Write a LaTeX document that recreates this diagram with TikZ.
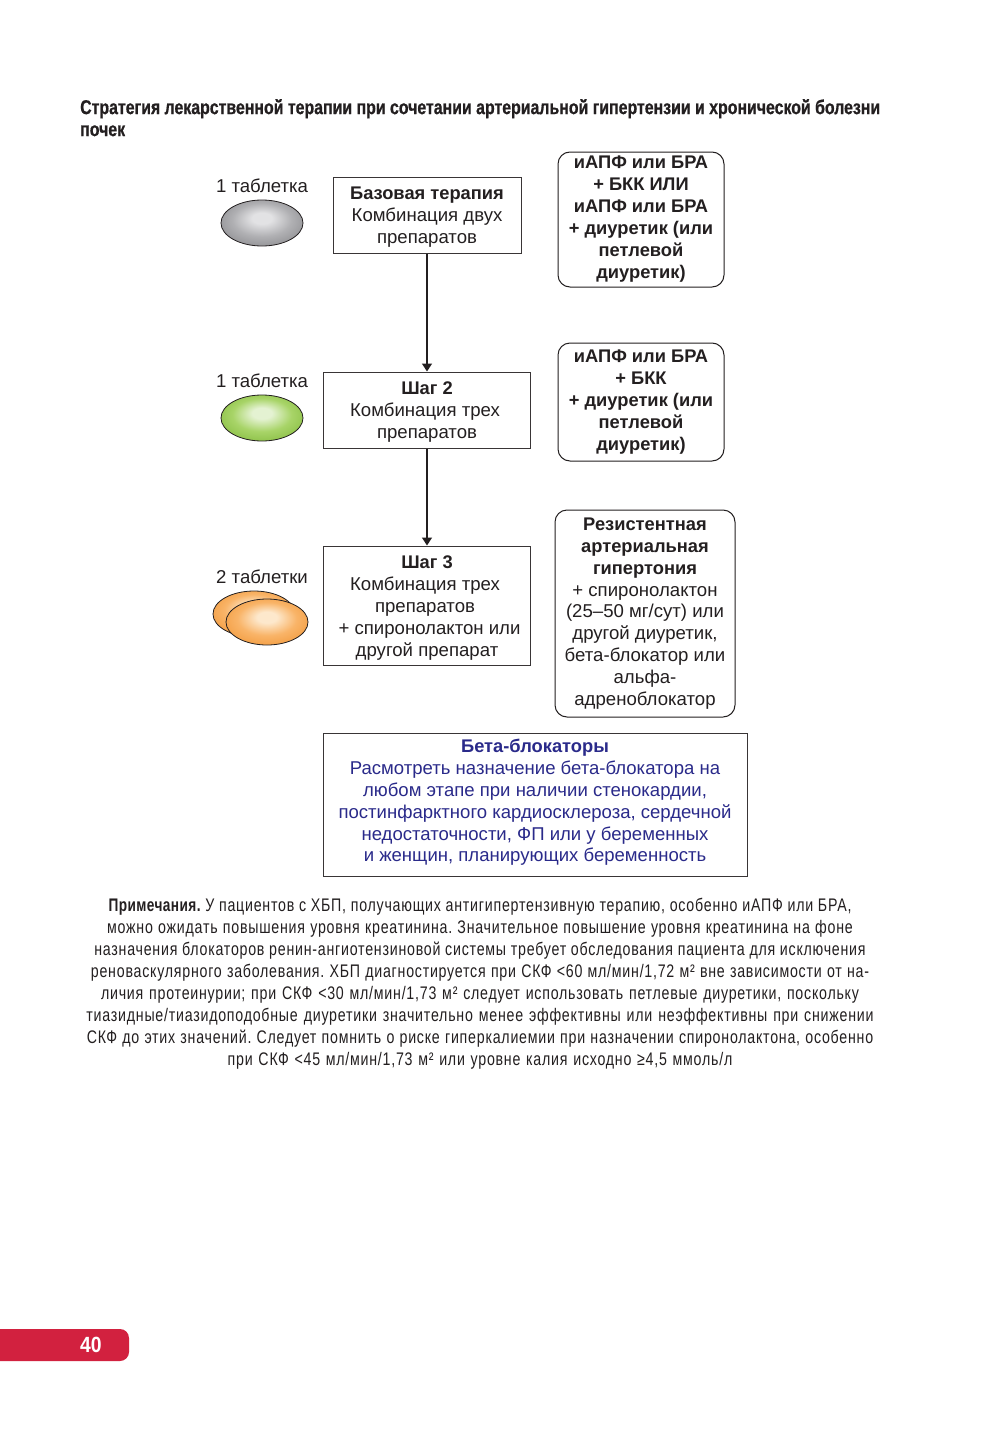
\documentclass[tikz,border=0pt]{standalone}
\usepackage{fontspec}
\setmainfont{Liberation Sans}
\newfontfamily\titlefont[FakeStretch=0.794,UprightFont={* Bold},FakeBold=0.7]{Liberation Sans}
\newfontfamily\pagefont[FakeStretch=0.88,UprightFont={* Bold}]{Liberation Sans}
\newfontfamily\condnote[FakeStretch=0.78,LetterSpace=4.2]{Liberation Sans}
\newfontfamily\condnoteb[FakeStretch=0.75,LetterSpace=2.4,UprightFont={* Bold}]{Liberation Sans}
\usetikzlibrary{arrows.meta,shapes.geometric}
\definecolor{ink}{HTML}{231F20}
\definecolor{navy}{HTML}{2A2A8A}
\definecolor{barred}{HTML}{D2213F}
\definecolor{gA}{HTML}{E2E2E4}\definecolor{gB}{HTML}{B0B0B3}\definecolor{gC}{HTML}{6E6E72}
\definecolor{vA}{HTML}{E4F2D2}\definecolor{vB}{HTML}{A8D468}\definecolor{vC}{HTML}{6CAA22}
\definecolor{oA}{HTML}{FDE8CC}\definecolor{oB}{HTML}{F9B468}\definecolor{oC}{HTML}{EC8418}
\pgfdeclareradialshading{pillgrey}{\pgfpoint{0bp}{6bp}}{color(0bp)=(gA); color(6bp)=(gA); color(18bp)=(gB); color(42bp)=(gC)}
\pgfdeclareradialshading{pillgreen}{\pgfpoint{0bp}{6bp}}{color(0bp)=(vA); color(6bp)=(vA); color(18bp)=(vB); color(42bp)=(vC)}
\pgfdeclareradialshading{pillorange}{\pgfpoint{0bp}{6bp}}{color(0bp)=(oA); color(6bp)=(oA); color(18bp)=(oB); color(42bp)=(oC)}
% struts that move a centred block of lines down (added height) or up (added depth)
\newcommand{\lineup}[1]{\rule{0pt}{#1pt}}
\newcommand{\linedn}[1]{\rule[-#1pt]{0pt}{#1pt}}
\newcommand{\nudge}[1]{\hspace*{#1pt}}
\newcommand{\bb}[1]{{\fontsize{18.3}{22}\selectfont\bfseries #1}}
\newcommand{\wider}[2]{{\spaceskip=\dimexpr\fontdimen2\font+#1pt\relax #2}}
\tikzset{
  x=1pt,y=-1pt,
  txt/.style={font=\fontsize{18.6}{22}\selectfont,text=ink,align=center,inner sep=0pt},
  stepbox/.style={draw=ink!90,line width=1pt,rectangle,txt,inner sep=0pt},
  sidebox/.style={draw=ink,line width=1pt,rectangle,rounded corners=12pt,txt,inner sep=0pt},
  flow/.style={draw=ink,line width=1.3pt,-{Triangle[length=8pt,width=10pt]}},
  pill/.style={ellipse,draw=ink,line width=0.8pt,inner sep=0pt,minimum width=82pt,minimum height=46pt},
  lbl/.style={txt,anchor=center},
}
\begin{document}
\begin{tikzpicture}
\useasboundingbox (0,0) rectangle (1000,1429);
\fill[white] (0,0) rectangle (1000,1429);

\node[inner sep=0pt,anchor=north west,text=ink,align=left,font=\titlefont\fontsize{20}{22}\selectfont] (title) at (80,99)
  {Стратегия лекарственной терапии при сочетании артериальной гипертензии и хронической болезни\\почек};

\node[lbl] (l1) at (262,186) {1 таблетка};
\node[lbl] (l2) at (262,381) {1 таблетка};
\node[lbl] (l3) at (262,577) {2 таблетки};

\node[pill,shading=pillgrey] (p1) at (262,223) {};
\node[pill,shading=pillgreen] (p2) at (262,418) {};
\node[pill,shading=pillorange] (p3) at (254,614) {};
\node[pill,shading=pillorange] (p4) at (267,622) {};

\node[stepbox,minimum width=188pt,minimum height=76pt] (base) at (427,215)
  {\lineup{16}\bb{Базовая терапия}\\Комбинация двух\\препаратов};
\node[stepbox,minimum width=207pt,minimum height=76pt] (s2) at (427,410)
  {\lineup{17}\bb{Шаг 2}\\\nudge{-4}Комбинация трех\\препаратов};
\node[stepbox,minimum width=207pt,minimum height=119pt] (s3) at (427,605.5)
  {\lineup{17}\bb{Шаг 3}\\\nudge{-4}Комбинация трех\\\nudge{-4}препаратов\\\nudge{5}+ спиронолактон или\\другой препарат};

\draw[flow] (base.south) -- (s2.north);
\draw[flow] (s2.south) -- (s3.north);

\node[sidebox,minimum width=166pt,minimum height=135pt] (r1) at (641,219.5)
  {\bb{иАПФ или БРА}\\\bb{+ БКК ИЛИ}\\\bb{иАПФ или БРА}\\\bb{+ диуретик (или}\\\bb{петлевой}\\\bb{диуретик)\linedn{5}}};
\node[sidebox,minimum width=166pt,minimum height=118pt] (r2) at (641,402)
  {\bb{иАПФ или БРА}\\\bb{+ БКК}\\\bb{+ диуретик (или}\\\bb{петлевой}\\\bb{диуретик)}};
\node[sidebox,font=\fontsize{18.6}{21.85}\selectfont,minimum width=180pt,minimum height=207pt] (r3) at (645,613.5)
  {\bb{Резистентная}\\\bb{артериальная}\\\bb{гипертония}\\+ спиронолактон\\(25–50 мг/сут) или\\другой диуретик,\\бета-блокатор или\\альфа-\\адреноблокатор};

\node[stepbox,text=navy,font=\fontsize{18.55}{21.9}\selectfont,minimum width=424pt,minimum height=143pt] (beta) at (535,804.5)
  {\bb{Бета-блокаторы}\\Расмотреть назначение бета-блокатора на\\любом этапе при наличии стенокардии,\\постинфарктного кардиосклероза, сердечной\\недостаточности, ФП или у беременных\\и женщин, планирующих беременность\linedn{8}};

\node[inner sep=0pt,text=ink,align=center,font=\condnote\frenchspacing\fontsize{18.2}{22.1}\selectfont] (notes) at (480,983.7)
  {{\condnoteb Примечания.} У пациентов с ХБП, получающих антигипертензивную терапию, особенно иАПФ или БРА,\\
  \wider{0.5}{можно ожидать повышения уровня креатинина. Значительное повышение уровня креатинина на фоне}\\
  назначения блокаторов ренин-ангиотензиновой системы требует обследования пациента для исключения\\
  \wider{0.5}{реноваскулярного заболевания. ХБП диагностируется при СКФ <60 мл/мин/1,72 м² вне зависимости от на-}\\
  \wider{1.1}{личия протеинурии; при СКФ <30 мл/мин/1,73 м² следует использовать петлевые диуретики, поскольку}\\
  \wider{1.2}{тиазидные/тиазидоподобные диуретики значительно менее эффективны или неэффективны при снижении}\\
  \wider{0.5}{СКФ до этих значений. Следует помнить о риске гиперкалиемии при назначении спиронолактона, особенно}\\
  \wider{1}{при СКФ <45 мл/мин/1,73 м² или уровне калия исходно ≥4,5 ммоль/л}};

\fill[barred,rounded corners=9pt] (-20,1329) rectangle (129,1361);
\node[inner sep=0pt,text=white,font=\pagefont\fontsize{22}{22}\selectfont] (page) at (91,1345) {40};
\end{tikzpicture}
\end{document}
